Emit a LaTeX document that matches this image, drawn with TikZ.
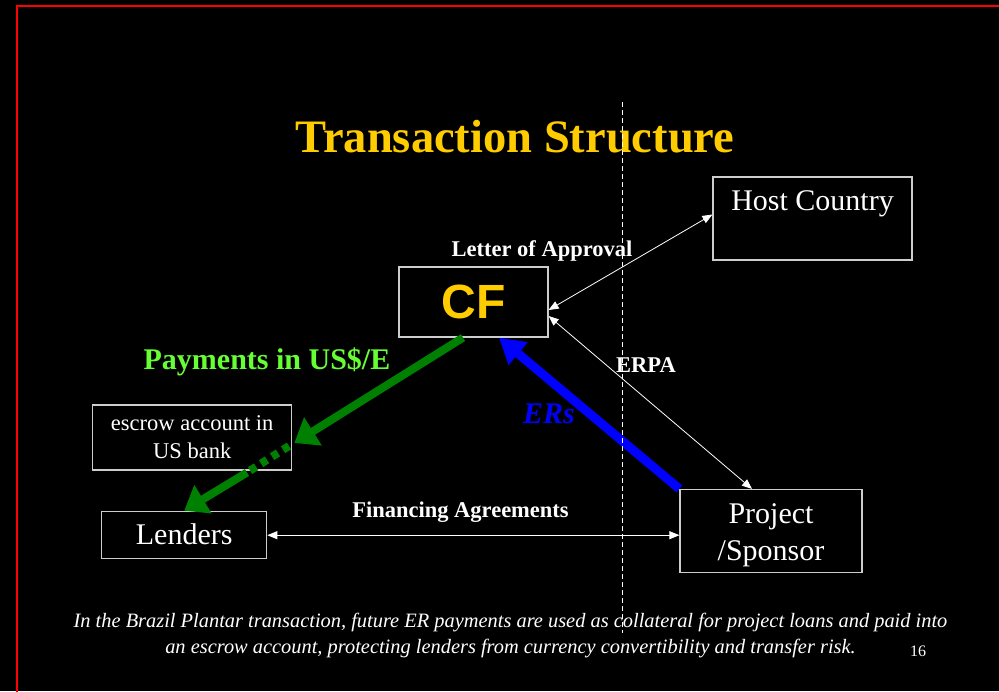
\documentclass[tikz,border=0pt]{standalone}
\usepackage{fontspec}
\setmainfont{Liberation Serif}
\newfontfamily\arialfont{Liberation Sans}
\usetikzlibrary{arrows.meta,positioning}
\definecolor{slidegold}{RGB}{255,204,0}
\definecolor{paygreen}{RGB}{102,255,51}
\definecolor{arrgreen}{RGB}{0,128,0}
\definecolor{boxline}{RGB}{205,205,205}

\begin{document}
\begin{tikzpicture}[x=1pt, y=-1pt,
      box/.style={rectangle, draw=boxline, line width=1.2pt, text=white,
          align=center, inner sep=0pt, font=\fontsize{30}{37}\selectfont},
      flow/.style={{Triangle[length=10pt,width=8pt]}-{Triangle[length=10pt,width=8pt]},
          draw=white, line width=0.8pt},
      greenflow/.style={draw=arrgreen, line width=8pt, -{Triangle[length=22pt,width=32pt]}},
      blueflow/.style={draw=blue, line width=9pt, -{Triangle[length=25pt,width=28pt]}},
      lbl/.style={anchor=base, text=white, font=\fontsize{22.5}{27}\selectfont\bfseries}
  ]
  \fill[black] (0,0) rectangle (999,691);
  \useasboundingbox (0,0) rectangle (999,691);
  \draw[red, line width=2.6pt] (17,700) |- (1010,6);

  \node[anchor=base, text=slidegold, font=\fontsize{46.5}{50}\selectfont\bfseries]
      (title) at (515,152) {Transaction Structure};

  % boxes
  \node[box, minimum width=199, minimum height=83, text height=20pt, text depth=36pt]
      (host) at (812.5,218.5) {Host Country};
  \node[box, minimum width=149, minimum height=70, text=slidegold,
        font=\arialfont\bfseries\fontsize{48}{52}\selectfont] (cf) at (473.5,302) {CF};
  \node[box, minimum width=199, minimum height=65, font=\fontsize{22.5}{28}\selectfont]
      (escrow) at (192.2,437.5) {escrow account in\\US bank};
  \node[box, minimum width=165, minimum height=47] (lenders) at (184.2,534.7) {Lenders};
  \node[box, minimum width=182, minimum height=83]
      (proj) at (771,531) {\rule{0pt}{27.5pt}Project\\/Sponsor};

  % thin agreements
  \draw[flow] ([yshift=-8pt]cf.east) -- ([yshift=4pt]host.west);
  \draw[flow] ([yshift=-14pt]cf.east) -- ([xshift=-19pt]proj.north);
  \draw[flow] ([yshift=-0.5pt]lenders.east) -- ([yshift=-0.5pt]lenders.east -| proj.west);

  % payments and ERs
  \coordinate (dotA) at (289,446);
  \coordinate (dotB) at (247,472.5);
  \draw[greenflow] ([xshift=-10.5pt]cf.south) -- ([shift={(2pt,-5.5pt)}]escrow.east);
  \draw[draw=arrgreen, line width=8pt, dash pattern=on 7pt off 6pt] (dotA) -- (dotB);
  \draw[greenflow] (dotB) -- (lenders.north);
  \draw[blueflow] (proj.north west) -- ([xshift=25.5pt]cf.south);

  \node[lbl] (loa) at (542,256) {Letter of Approval};
  \node[lbl] (erpa) at (646,372) {ERPA};
  \node[lbl] (fin) at (460.5,517) {Financing Agreements};
  \node[anchor=base, text=paygreen, font=\fontsize{30}{34}\selectfont\bfseries]
      (pay) at (267,369) {Payments in US\$/E};
  \node[anchor=base, text=blue, font=\fontsize{30}{34}\selectfont\bfseries\itshape]
      (ers) at (549,423) {ERs};

  \node[align=center, text=white, inner sep=0pt, font=\fontsize{20.4}{26}\selectfont\itshape]
      (note) at (510.5,635.5) {In the Brazil Plantar transaction, future ER payments are used as collateral for project loans and paid into\\
      an escrow account, protecting lenders from currency convertibility and transfer risk.};
  \node[anchor=base, text=white, font=\fontsize{16}{19}\selectfont] (pagenum) at (918,656) {16};

  \draw[white, line width=0.8pt, dash pattern=on 5pt off 3pt] (622,102) -- (622,633);
\end{tikzpicture}
\end{document}
